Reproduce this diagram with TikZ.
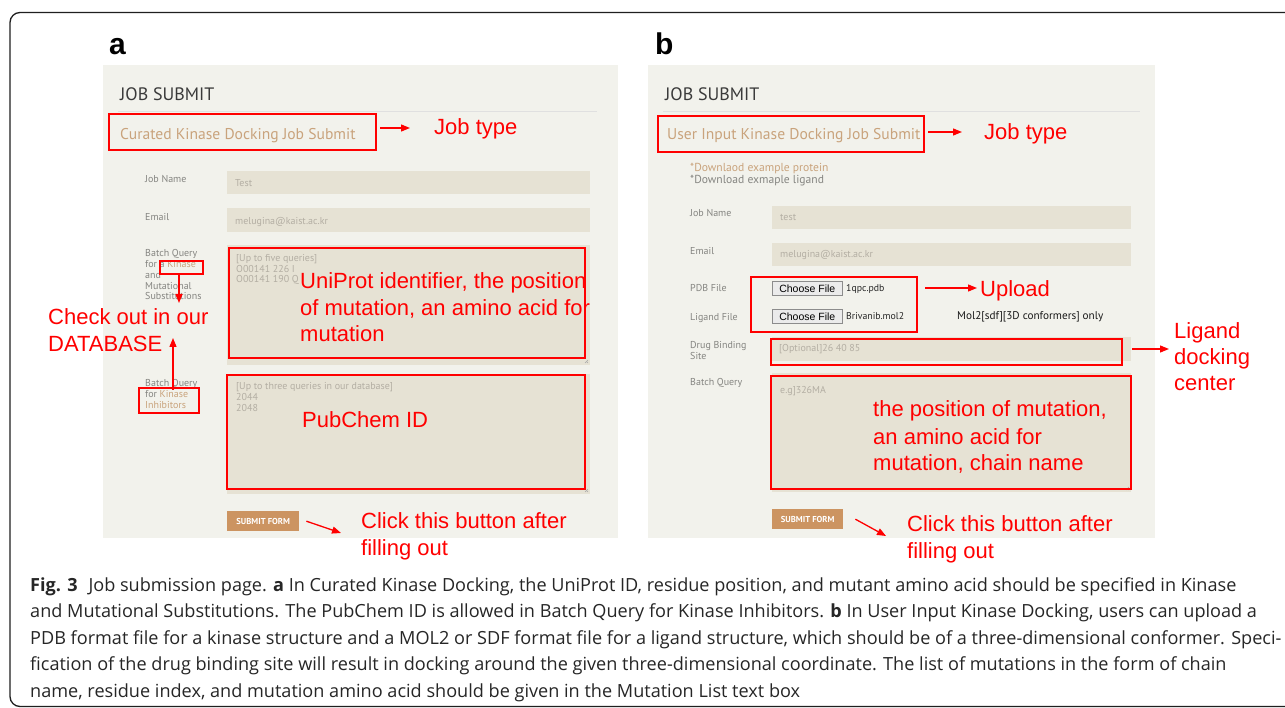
\documentclass[tikz,border=0pt]{standalone}
\usepackage{fontspec}
\setmainfont{Liberation Sans}
\newfontfamily\uifont{PT Sans}
\newfontfamily\capfont{Open Sans}
\usetikzlibrary{arrows.meta}
\definecolor{panelbg}{HTML}{F2F2EC}
\definecolor{fieldbg}{HTML}{E6E2D4}
\definecolor{tanc}{HTML}{C9A37C}
\definecolor{btnc}{HTML}{CC9461}
\definecolor{lblgray}{HTML}{858581}
\definecolor{phgray}{HTML}{B3AEA3}
\definecolor{annred}{HTML}{FF0000}
\definecolor{titlegray}{HTML}{3A3A3A}
\begin{document}
\begin{tikzpicture}[x=1pt,y=-1pt,
  panel/.style={fill=panelbg,draw=none},
  field/.style={fill=fieldbg,draw=none},
  rbox/.style={draw=annred,line width=2pt,inner sep=0,anchor=north west},
  ann/.style={font=\fontsize{22}{26}\selectfont,text=annred,anchor=base west,inner sep=0},
  lbl/.style={font=\uifont\fontsize{10}{11}\selectfont,text=lblgray,anchor=base west,inner sep=0},
  ph/.style={font=\uifont\fontsize{10}{11}\selectfont,text=phgray,anchor=base west,inner sep=0},
  ttl/.style={font=\uifont\fontsize{18}{20}\selectfont,text=titlegray,anchor=base west,inner sep=0},
  jtype/.style={font=\uifont\fontsize{15.6}{17}\selectfont,text=tanc,anchor=base west,inner sep=0},
  btnstyle/.style={fill=btnc,text=white,font=\uifont\bfseries\fontsize{8.6}{9}\selectfont,inner sep=0,minimum width=72pt,minimum height=20pt,anchor=north west},
  chooser/.style={fill=black!8,draw=black!45,line width=0.6pt,font=\fontsize{10.5}{11}\selectfont,inner sep=0,minimum width=70pt,minimum height=14pt,anchor=north west},
  small/.style={font=\uifont\fontsize{9.8}{10}\selectfont,text=black!85,anchor=base west,inner sep=0},
  rarrow/.style={draw=annred,line width=1.3pt,-{Triangle[length=9pt,width=7pt]}},
  capl/.style={font=\capfont\fontsize{18.1}{26.5}\selectfont,text=black!85,anchor=base west,inner sep=0},
  plabel/.style={font=\bfseries\fontsize{30}{32}\selectfont,anchor=base west,inner sep=0},
  grip/.style={draw=black!35,line width=0.5pt}]
\useasboundingbox (0,0) rectangle (1285,708);
\fill[white] (0,0) rectangle (1285,708);
\draw[line width=1.3pt,color=black!88,rounded corners=10pt] (10,12.5) rectangle (1320,706.5);

% ================= panel a =================
\node[plabel] (la) at (109,55) {a};
\fill[panel] (103,65) rectangle (618,538);
\node[ttl] (a_title) at (120,101) {JOB SUBMIT};
\draw[black!12,line width=0.8pt] (118,111) -- (597,111);
\node[rbox,minimum width=267pt,minimum height=36pt] (a_jtbox) at (108,113) {};
\node[jtype] (a_jt) at (120,139.5) {Curated Kinase Docking Job Submit};
\node[ann] (a_jtl) at (434,135) {Job type};
\draw[rarrow] ([xshift=3pt]a_jtbox.east |- 0,128) -- (410,128) coordinate (a_jtend);

\node[lbl] (a_jn) at (145,183) {Job Name};
\fill[field] (227,171) rectangle (590,194);
\node[ph] (a_jnv) at (235,186.5) {Test};
\node[lbl] (a_em) at (145,221) {Email};
\fill[field] (227,208) rectangle (590,232);
\node[ph] (a_emv) at (235,224.5) {melugina@kaist.ac.kr};

\node[lbl] (a_bq1) at (145,257) {Batch Query};
\node[lbl] (a_bq2) at (145,268) {for a \textcolor{tanc}{Kinase}};
\node[lbl] (a_bq3) at (145,279) {and};
\node[lbl] (a_bq4) at (145,289.5) {Mutational};
\node[lbl] (a_bq5) at (145,300) {Substitutions};
\node[rbox,minimum width=43pt,minimum height=13pt] (a_kinbox) at (159,260.5) {};

\fill[field] (227,245) rectangle (590,365);
\draw[grip] (585,363) -- (588,360) (587,363) -- (588,362);
\node[ph] (a_t1) at (236,262) {[Up to five queries]};
\node[ph] (a_t2) at (236,272.5) {O00141 226 I};
\node[ph] (a_t3) at (236,283) {O00141 190 Q};
\node[rbox,minimum width=356pt,minimum height=110pt] (a_ta1) at (228,247) {};
\node[ann] (a_u1) at (300,289) {UniProt identifier, the position};
\node[ann] (a_u2) at (300,315.5) {of mutation, an amino acid for};
\node[ann] (a_u3) at (300,342) {mutation};

\node[ann] (a_ck1) at (48,325) {Check out in our};
\node[ann] (a_ck2) at (48,352) {DATABASE};
\coordinate (a_kinend) at (179,303);
\draw[rarrow] (a_kinbox.south -| a_kinend) -- (a_kinend);

\node[lbl] (a_bi1) at (145,387) {Batch Query};
\node[lbl] (a_bi2) at (145,397.5) {for \textcolor{tanc}{Kinase}};
\node[lbl] (a_bi3) at (145,408) {\textcolor{tanc}{Inhibitors}};
\node[rbox,minimum width=60pt,minimum height=25pt] (a_inhbox) at (138,387) {};
\coordinate (a_dbend) at (173,338);
\draw[rarrow] ([yshift=-3pt]a_dbend |- a_inhbox.north) -- (a_dbend);

\fill[field] (227,374) rectangle (590,494);
\draw[grip] (585,492) -- (588,489) (587,492) -- (588,491);
\node[ph] (a_p1) at (236,390) {[Up to three queries in our database]};
\node[ph] (a_p2) at (236,400.5) {2044};
\node[ph] (a_p3) at (236,411) {2048};
\node[rbox,minimum width=358pt,minimum height=114pt] (a_ta2) at (226,374) {};
\node[ann] (a_pub) at (302,427) {PubChem ID};

\node[btnstyle] (a_btn) at (227,511) {SUBMIT FORM};
\coordinate (a_clend) at (341,533);
\draw[rarrow] ([xshift=7pt]a_btn.east) -- (a_clend);
\node[ann] (a_cl1) at (361,528) {Click this button after};
\node[ann] (a_cl2) at (361,555) {filling out};

% ================= panel b =================
\node[plabel] (lb) at (655,55) {b};
\fill[panel] (648,65) rectangle (1155,538);
\node[ttl] (b_title) at (665,101) {JOB SUBMIT};
\draw[black!12,line width=0.8pt] (663,111) -- (1140,111);
\node[rbox,minimum width=266pt,minimum height=36pt] (b_jtbox) at (657,115) {};
\node[jtype] (b_jt) at (667,139.5) {User Input Kinase Docking Job Submit};
\node[ann] (b_jtl) at (984,140) {Job type};
\draw[rarrow] ([xshift=3pt]b_jtbox.east |- 0,132) -- (962,132) coordinate (b_jtend);

\node[lbl,font=\uifont\fontsize{11.6}{12}\selectfont,text=tanc] (b_d1) at (690,172) {*Downlaod example protein};
\node[lbl,font=\uifont\fontsize{11.6}{12}\selectfont] (b_d2) at (690,184) {*Download exmaple ligand};

\node[lbl] (b_jn) at (690,217) {Job Name};
\fill[field] (772,206) rectangle (1131,229);
\node[ph] (b_jnv) at (780,220.5) {test};
\node[lbl] (b_em) at (690,255) {Email};
\fill[field] (772,243) rectangle (1131,266);
\node[ph] (b_emv) at (780,258) {melugina@kaist.ac.kr};

\node[lbl] (b_pdb) at (690,292) {PDB File};
\node[lbl] (b_lig) at (690,321) {Ligand File};
\node[chooser] (b_c1) at (772,281) {Choose File};
\node[small] (b_f1) at (846,291.5) {1qpc.pdb};
\node[chooser] (b_c2) at (772,309.5) {Choose File};
\node[small] (b_f2) at (846,320) {Brivanib.mol2};
\node[small,font=\uifont\fontsize{11.2}{12}\selectfont,text=black!90] (b_mol) at (957,320) {Mol2[sdf][3D conformers] only};
\node[rbox,minimum width=166pt,minimum height=55pt] (b_filebox) at (750,276) {};
\node[ann] (b_up) at (980,297) {Upload};
\draw[rarrow] ([xshift=7pt]b_filebox.east |- 0,288) -- (977,288) coordinate (b_upend);

\node[lbl] (b_dbs1) at (690,348.5) {Drug Binding};
\node[lbl] (b_dbs2) at (690,359.5) {Site};
\fill[field] (772,337) rectangle (1131,361);
\node[ph] (b_dbsv) at (779,352) {[Optional]26 40 85};
\node[rbox,minimum width=351pt,minimum height=26pt] (b_dbsbox) at (770,338) {};
\node[ann] (b_lg1) at (1174,339) {Ligand};
\node[ann] (b_lg2) at (1174,365) {docking};
\node[ann] (b_lg3) at (1174,391) {center};
\coordinate (b_lgend) at (1169,349);
\draw[rarrow] ([xshift=9pt]b_dbsbox.east |- b_lgend) -- (b_lgend);

\node[lbl] (b_bq) at (690,386) {Batch Query};
\fill[field] (772,373) rectangle (1131,492);
\draw[grip] (1126,490) -- (1129,487) (1128,490) -- (1129,489);
\node[ph] (b_bqv) at (780,394) {e.g]326MA};
\node[rbox,minimum width=360pt,minimum height=113pt] (b_bqbox) at (770,375) {};
\node[ann] (b_m1) at (873,417) {the position of mutation,};
\node[ann] (b_m2) at (873,444) {an amino acid for};
\node[ann] (b_m3) at (873,470) {mutation, chain name};

\node[btnstyle,minimum width=71pt] (b_btn) at (772,509) {SUBMIT FORM};
\coordinate (b_clend) at (886,536);
\draw[rarrow] ([xshift=12pt]b_btn.east) -- (b_clend);
\node[ann] (b_cl1) at (907,531) {Click this button after};
\node[ann] (b_cl2) at (907,558) {filling out};

% ================= caption =================
\node[capl] (c1) at (30,591) {\textbf{Fig. 3}\hspace{0.6em}Job submission page. \textbf{a} In Curated Kinase Docking, the UniProt ID, residue position, and mutant amino acid should be specified in Kinase};
\node[capl] (c2) at (30,617.5) {and Mutational Substitutions. The PubChem ID is allowed in Batch Query for Kinase Inhibitors. \textbf{b} In User Input Kinase Docking, users can upload a};
\node[capl] (c3) at (30,644) {PDB format file for a kinase structure and a MOL2 or SDF format file for a ligand structure, which should be of a three-dimensional conformer. Speci-};
\node[capl] (c4) at (30,670.5) {fication of the drug binding site will result in docking around the given three-dimensional coordinate. The list of mutations in the form of chain};
\node[capl] (c5) at (30,697) {name, residue index, and mutation amino acid should be given in the Mutation List text box};
\end{tikzpicture}
\end{document}
